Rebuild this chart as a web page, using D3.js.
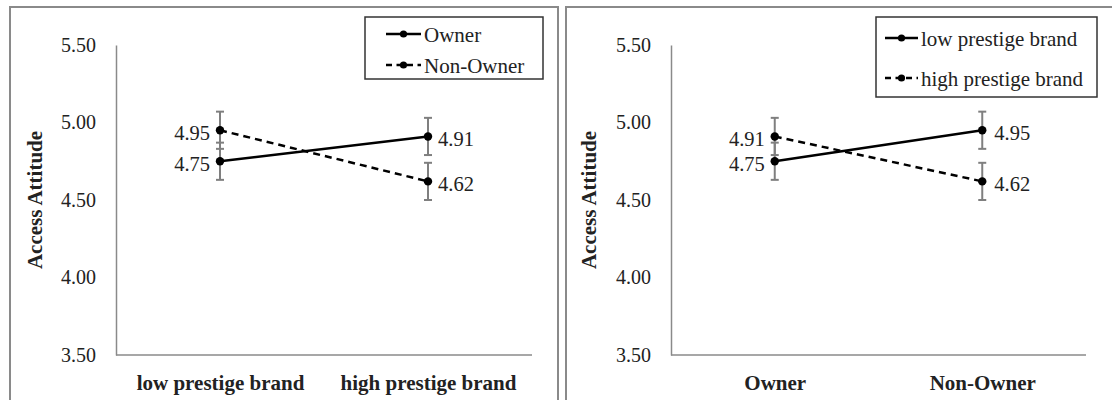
<!DOCTYPE html>
<html>
<head>
<meta charset="utf-8">
<script src="https://cdn.jsdelivr.net/npm/d3@7"></script>
<style>
  html, body { margin: 0; padding: 0; background: #fff; }
  svg { display: block; }
  text { font-family: "Liberation Serif", "Times New Roman", serif; fill: #222; }
</style>
</head>
<body>
<svg id="chart" width="1112" height="400"></svg>
<script>
// Y axis ticks shared by both panels
const yTicks = [3.5, 4.0, 4.5, 5.0, 5.5];
const yTitle = "Access Attitude";

// Panel A: brand prestige on the x axis, ownership as series
const brandCategories = ["low prestige brand", "high prestige brand"];
const ownerMeans = [4.75, 4.91];
const ownerErrors = [0.12, 0.12];
const nonOwnerMeans = [4.95, 4.62];
const nonOwnerErrors = [0.12, 0.12];

// Panel B: ownership on the x axis, brand prestige as series
const ownershipCategories = ["Owner", "Non-Owner"];
const lowPrestigeMeans = [4.75, 4.95];
const lowPrestigeErrors = [0.12, 0.12];
const highPrestigeMeans = [4.91, 4.62];
const highPrestigeErrors = [0.12, 0.12];

const svg = d3.select("#chart");
const fmt = d3.format(".2f");
const serif = "'Liberation Serif', 'Times New Roman', serif";

const panels = [
  {
    frame: { x: 10, y: 7, w: 548, h: 420 },
    axisX: [116, 532],
    titleX: 35,
    categories: brandCategories,
    series: [
      { name: "Owner", means: ownerMeans, errors: ownerErrors, dashed: false },
      { name: "Non-Owner", means: nonOwnerMeans, errors: nonOwnerErrors, dashed: true }
    ],
    legend: { x: 365, y: 17, w: 178, h: 62, rows: [34, 65], lineX: [386, 421], textX: 424 },
    labelGapRight: 10
  },
  {
    frame: { x: 566, y: 7, w: 560, h: 420 },
    axisX: [671, 1086],
    titleX: 589,
    categories: ownershipCategories,
    series: [
      { name: "low prestige brand", means: lowPrestigeMeans, errors: lowPrestigeErrors, dashed: false },
      { name: "high prestige brand", means: highPrestigeMeans, errors: highPrestigeErrors, dashed: true }
    ],
    legend: { x: 876, y: 17, w: 221, h: 80, rows: [38, 78], lineX: [885, 918], textX: 921 },
    labelGapRight: 12
  }
];

const y = d3.scaleLinear().domain([3.5, 5.5]).range([355, 45]);

panels.forEach(p => {
  const g = svg.append("g");

  // outer frame
  g.append("rect")
    .attr("x", p.frame.x).attr("y", p.frame.y)
    .attr("width", p.frame.w).attr("height", p.frame.h)
    .attr("fill", "none").attr("stroke", "#8a8a8a").attr("stroke-width", 2);

  const x = d3.scalePoint().domain(p.categories).range(p.axisX).padding(0.5);

  // y axis: line plus labels, no tick marks
  const yAxis = g.append("g")
    .attr("transform", `translate(${p.axisX[0]},0)`)
    .call(d3.axisLeft(y).tickValues(yTicks).tickFormat(fmt).tickSize(0).tickPadding(20));
  yAxis.attr("font-family", serif);
  yAxis.select(".domain").attr("stroke", "#8a8a8a").attr("stroke-width", 1.5);
  yAxis.selectAll("text")
    .attr("font-size", 20).attr("fill", "#222");

  // x axis
  const xAxis = g.append("g")
    .attr("transform", `translate(0,${y(3.5)})`)
    .call(d3.axisBottom(x).tickSize(0).tickPadding(20));
  xAxis.attr("font-family", serif);
  xAxis.select(".domain")
    .attr("d", `M${p.axisX[0]},0H${p.axisX[1]}`)
    .attr("stroke", "#8a8a8a").attr("stroke-width", 1.5);
  xAxis.selectAll("text")
    .attr("font-size", 21).attr("font-weight", "bold").attr("fill", "#111");

  // y title
  g.append("text")
    .attr("transform", `translate(${p.titleX},${y(4.5)}) rotate(-90)`)
    .attr("text-anchor", "middle").attr("dominant-baseline", "central")
    .attr("font-size", 21).attr("font-weight", "bold").attr("fill", "#111")
    .text(yTitle);

  // error bars
  p.series.forEach(s => {
    const eb = g.append("g").attr("stroke", "#7f7f7f").attr("stroke-width", 2);
    p.categories.forEach((c, i) => {
      const cx = x(c);
      const top = y(s.means[i] + s.errors[i]);
      const bot = y(s.means[i] - s.errors[i]);
      eb.append("line").attr("x1", cx).attr("x2", cx).attr("y1", top).attr("y2", bot);
      eb.append("line").attr("x1", cx - 4).attr("x2", cx + 4).attr("y1", top).attr("y2", top);
      eb.append("line").attr("x1", cx - 4).attr("x2", cx + 4).attr("y1", bot).attr("y2", bot);
    });
  });

  // lines, markers and value labels
  p.series.forEach(s => {
    const pts = p.categories.map((c, i) => [x(c), y(s.means[i])]);
    g.append("path")
      .attr("d", d3.line()(pts))
      .attr("fill", "none").attr("stroke", "#000").attr("stroke-width", 2.5)
      .attr("stroke-dasharray", s.dashed ? "7,5" : null);
    g.selectAll(null).data(pts).enter().append("circle")
      .attr("cx", d => d[0]).attr("cy", d => d[1]).attr("r", 4.2).attr("fill", "#000");
    g.selectAll(null).data(p.categories).enter().append("text")
      .attr("x", (c, i) => i === 0 ? x(c) - 10 : x(c) + p.labelGapRight)
      .attr("y", (c, i) => y(s.means[i]) + 10)
      .attr("text-anchor", (c, i) => i === 0 ? "end" : "start")
      .attr("font-size", 20.5)
      .text((c, i) => fmt(s.means[i]));
  });

  // legend
  const L = p.legend;
  const lg = g.append("g");
  lg.append("rect")
    .attr("x", L.x).attr("y", L.y).attr("width", L.w).attr("height", L.h)
    .attr("fill", "#fff").attr("stroke", "#333").attr("stroke-width", 1.5);
  p.series.forEach((s, i) => {
    const ry = L.rows[i];
    lg.append("line")
      .attr("x1", L.lineX[0]).attr("x2", L.lineX[1]).attr("y1", ry).attr("y2", ry)
      .attr("stroke", "#000").attr("stroke-width", 2.5)
      .attr("stroke-dasharray", s.dashed ? "6,4.5" : null);
    lg.append("circle")
      .attr("cx", (L.lineX[0] + L.lineX[1]) / 2).attr("cy", ry).attr("r", 3.6).attr("fill", "#000");
    lg.append("text")
      .attr("x", L.textX).attr("y", ry + 8)
      .attr("font-size", 21)
      .text(s.name);
  });
});
</script>
</body>
</html>
